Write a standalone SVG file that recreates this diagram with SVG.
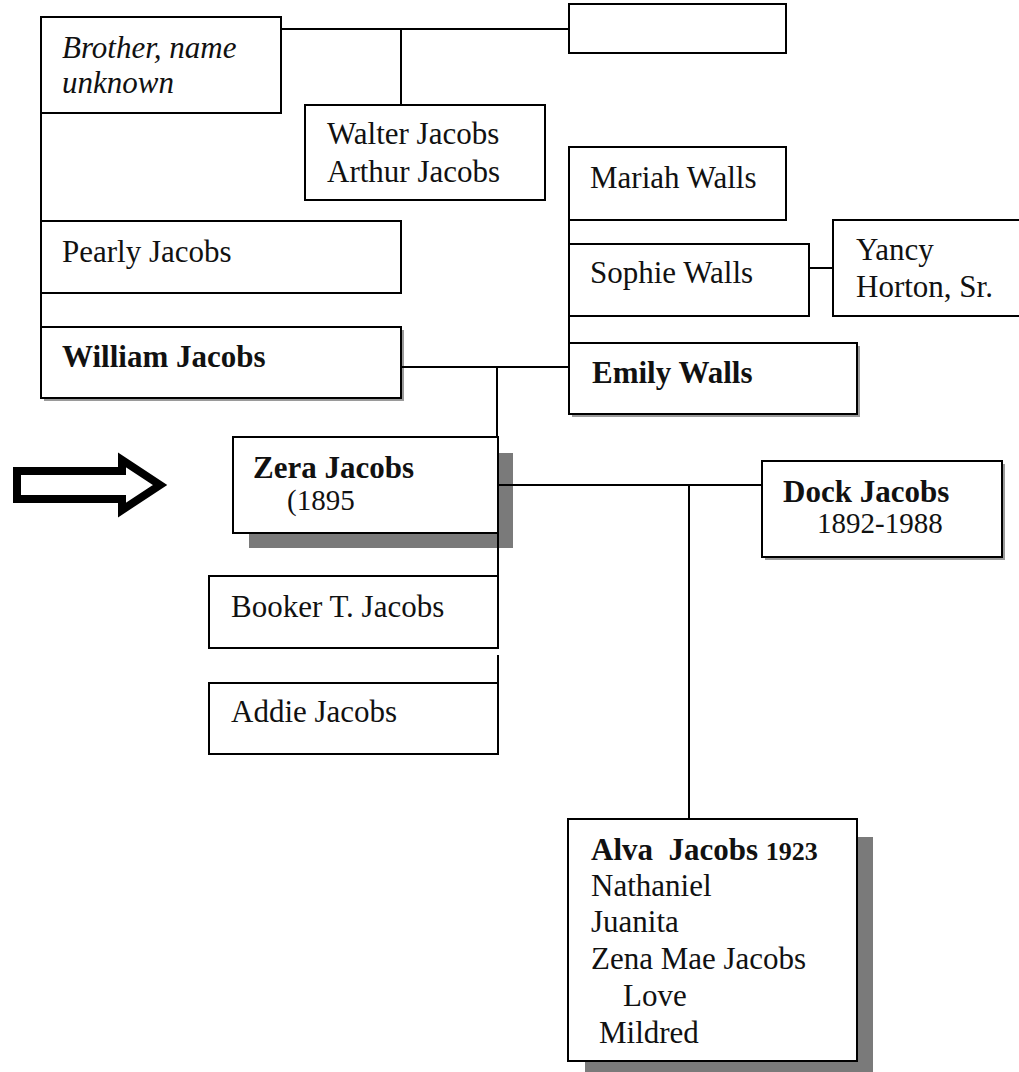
<svg xmlns="http://www.w3.org/2000/svg" width="1019" height="1072" viewBox="0 0 1019 1072" font-family="Liberation Serif, serif">
<style>
.box{fill:#fff;stroke:#000;stroke-width:2}
.sh{fill:#7a7a7a}
.shs{fill:#9a9a9a}
.ln{stroke:#000;stroke-width:2;fill:none}
.t{font-family:"Liberation Serif",serif;font-size:31px;fill:#111}
.b{font-weight:bold}
.i{font-style:italic}
</style>
<rect width="1019" height="1072" fill="#fff"/>
<g id="arrow">
<path d="M17,471 L122,471 L122,460 L160,485 L122,510 L122,499 L17,499 Z" fill="#fff" stroke="#000" stroke-width="8" stroke-linejoin="miter"/>
</g>
<g id="shadows">
<rect class="shs" x="44" y="330" width="360" height="71"/>
<rect class="shs" x="572" y="346" width="288" height="71"/>
<rect class="shs" x="765" y="464" width="240" height="96"/>
<rect class="sh" x="249" y="453" width="264" height="95"/>
<rect class="sh" x="585" y="837" width="288" height="240"/>
</g>
<g id="connectors">
<line class="ln" x1="281" y1="29" x2="569" y2="29"/>
<line class="ln" x1="401" y1="29" x2="401" y2="105"/>
<line class="ln" x1="41" y1="113" x2="41" y2="327"/>
<line class="ln" x1="569" y1="147" x2="569" y2="343"/>
<line class="ln" x1="809" y1="268" x2="833" y2="268"/>
<line class="ln" x1="401" y1="367" x2="569" y2="367"/>
<line class="ln" x1="497" y1="367" x2="497" y2="437"/>
<line class="ln" x1="498" y1="533" x2="498" y2="576"/>
<line class="ln" x1="498" y1="655" x2="498" y2="683"/>
<line class="ln" x1="498" y1="485" x2="762" y2="485"/>
<line class="ln" x1="689" y1="485" x2="689" y2="819"/>
</g>
<g class="t" font-family="Liberation Serif, serif" font-size="31">
<g id="brother">
<rect class="box" x="41" y="17" width="240" height="96"/>
<text class="i" x="62" y="58">Brother, name</text>
<text class="i" x="62" y="93">unknown</text>
</g>
<g id="topright">
<rect class="box" x="569" y="4" width="217" height="49"/>
</g>
<g id="walter">
<rect class="box" x="305" y="105" width="240" height="95"/>
<text x="327" y="144">Walter Jacobs</text>
<text x="327" y="182">Arthur Jacobs</text>
</g>
<g id="pearly">
<rect class="box" x="41" y="221" width="360" height="72"/>
<text x="62" y="262">Pearly Jacobs</text>
</g>
<g id="william">
<rect class="box" x="41" y="327" width="360" height="71"/>
<text class="b" x="62" y="367">William Jacobs</text>
</g>
<g id="mariah">
<rect class="box" x="569" y="147" width="217" height="73"/>
<text x="590" y="188">Mariah Walls</text>
</g>
<g id="sophie">
<rect class="box" x="569" y="244" width="240" height="72"/>
<text x="590" y="283">Sophie Walls</text>
</g>
<g id="yancy">
<rect class="box" x="833" y="220" width="200" height="96"/>
<text x="856" y="260">Yancy</text>
<text x="856" y="297">Horton, Sr.</text>
</g>
<g id="emily">
<rect class="box" x="569" y="343" width="288" height="71"/>
<text class="b" x="592" y="383">Emily Walls</text>
</g>
<g id="zera">
<rect class="box" x="233" y="437" width="265" height="96"/>
<text class="b" x="253" y="478">Zera Jacobs</text>
<text x="287" y="510" font-size="29">(1895</text>
</g>
<g id="dock">
<rect class="box" x="762" y="461" width="240" height="96"/>
<text class="b" x="783" y="502">Dock Jacobs</text>
<text x="817" y="533" font-size="29">1892-1988</text>
</g>
<g id="booker">
<rect class="box" x="209" y="576" width="289" height="72"/>
<text x="231" y="617">Booker T. Jacobs</text>
</g>
<g id="addie">
<rect class="box" x="209" y="683" width="289" height="71"/>
<text x="231" y="722">Addie Jacobs</text>
</g>
<g id="alva">
<rect class="box" x="568" y="819" width="289" height="242"/>
<text class="b" x="591" y="860" xml:space="preserve">Alva  Jacobs <tspan font-size="26">1923</tspan></text>
<text x="591" y="896">Nathaniel</text>
<text x="591" y="932">Juanita</text>
<text x="591" y="969">Zena Mae Jacobs</text>
<text x="623" y="1006">Love</text>
<text x="599" y="1043">Mildred</text>
</g>
</g>
</svg>
